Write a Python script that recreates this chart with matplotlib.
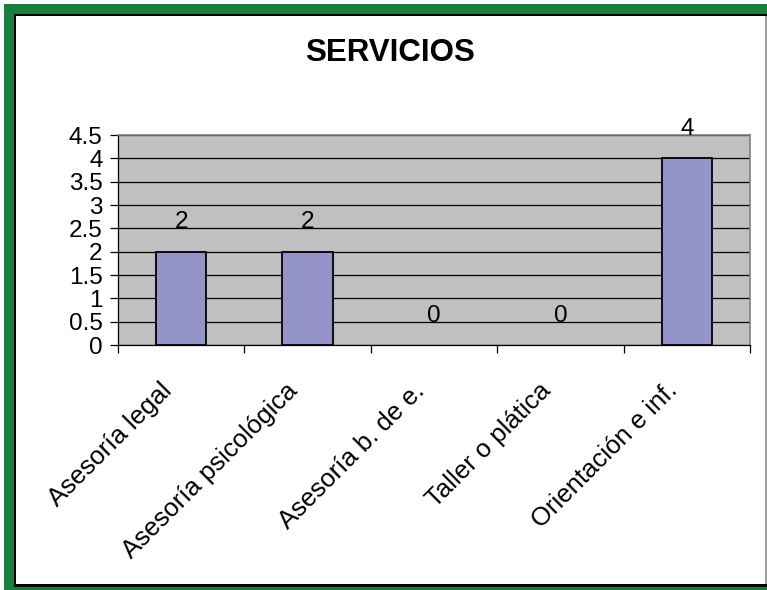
import numpy as np
import matplotlib
matplotlib.use("Agg")
import matplotlib.pyplot as plt
from matplotlib.patches import Rectangle
from matplotlib.transforms import ScaledTranslation

plt.rcParams['font.family'] = ['Liberation Sans', 'DejaVu Sans']

categories = ['Asesoría legal', 'Asesoría psicológica', 'Asesoría b. de e.',
              'Taller o plática', 'Orientación e inf.']
values = [2, 2, 0, 0, 4]
yticks = [0, 0.5, 1, 1.5, 2, 2.5, 3, 3.5, 4, 4.5]

W, H = 767, 590
fig = plt.figure(figsize=(W / 100, H / 100), dpi=100)
fig.patch.set_facecolor('white')


def px(x0, y0, w, h, color):
    # rectangle in pixel units, y measured from the top
    fig.add_artist(Rectangle((x0 / W, 1 - (y0 + h) / H), w / W, h / H,
                             transform=fig.transFigure, color=color, lw=0))


green = '#17803f'
# frame
px(4, 4, 763, 10, green)
px(4, 4, 10, 586, green)
px(4, 587, 763, 3, green)
px(14, 14, 753, 2, 'black')
px(14, 14, 2, 573, 'black')
px(14, 584, 753, 3, 'black')
px(765, 16, 2, 568, '#a0a0a0')

ax = fig.add_axes([118 / W, 1 - 345 / H, (750 - 118) / W, (345 - 135) / H])
ax.set_facecolor('#c0c0c0')

x = np.arange(len(categories))
ax.bar(x, values, width=0.4, color='#9494ca', edgecolor='black',
       linewidth=[1.3 if v else 0 for v in values], zorder=3)

ax.set_ylim(0, 4.5)
ax.set_xlim(-0.5, len(categories) - 0.5)
ax.set_yticks(yticks)
ax.set_yticklabels([f'{v:g}' for v in yticks], fontsize=17.5)
ax.yaxis.grid(True, color='black', linewidth=0.9, zorder=0)
ax.set_axisbelow(True)

# tick marks at category boundaries, labels at centers
ax.set_xticks(np.arange(len(categories) + 1) - 0.5)
ax.set_xticklabels([])
ax.set_xticks(x, minor=True)
ax.set_xticklabels(categories, minor=True, rotation=45, ha='right', va='top',
                   rotation_mode='anchor', fontsize=18.5)
ax.tick_params(axis='x', which='minor', length=0, pad=24)
ax.tick_params(axis='x', which='major', length=6, width=0.9, direction='out')
ax.tick_params(axis='y', length=6, width=0.9, direction='out', pad=5)
off = ScaledTranslation(-22 / 100, 0, fig.dpi_scale_trans)
for lab in ax.get_xticklabels(minor=True):
    lab.set_transform(lab.get_transform() + off)

for s in ['left', 'bottom']:
    ax.spines[s].set_color('black')
    ax.spines[s].set_linewidth(0.9)
for s in ['top', 'right']:
    ax.spines[s].set_color('#808080')
    ax.spines[s].set_linewidth(1.2)

for xi, v in zip(x, values):
    ax.annotate(f'{v}', (xi, v), xytext=(0, 21), textcoords='offset points',
                ha='center', va='center', fontsize=17.5)

fig.text(390 / W, 1 - 53 / H, 'SERVICIOS', ha='center', va='center',
         fontsize=22.5, fontweight='bold')

fig.savefig('out.png', dpi=100)
